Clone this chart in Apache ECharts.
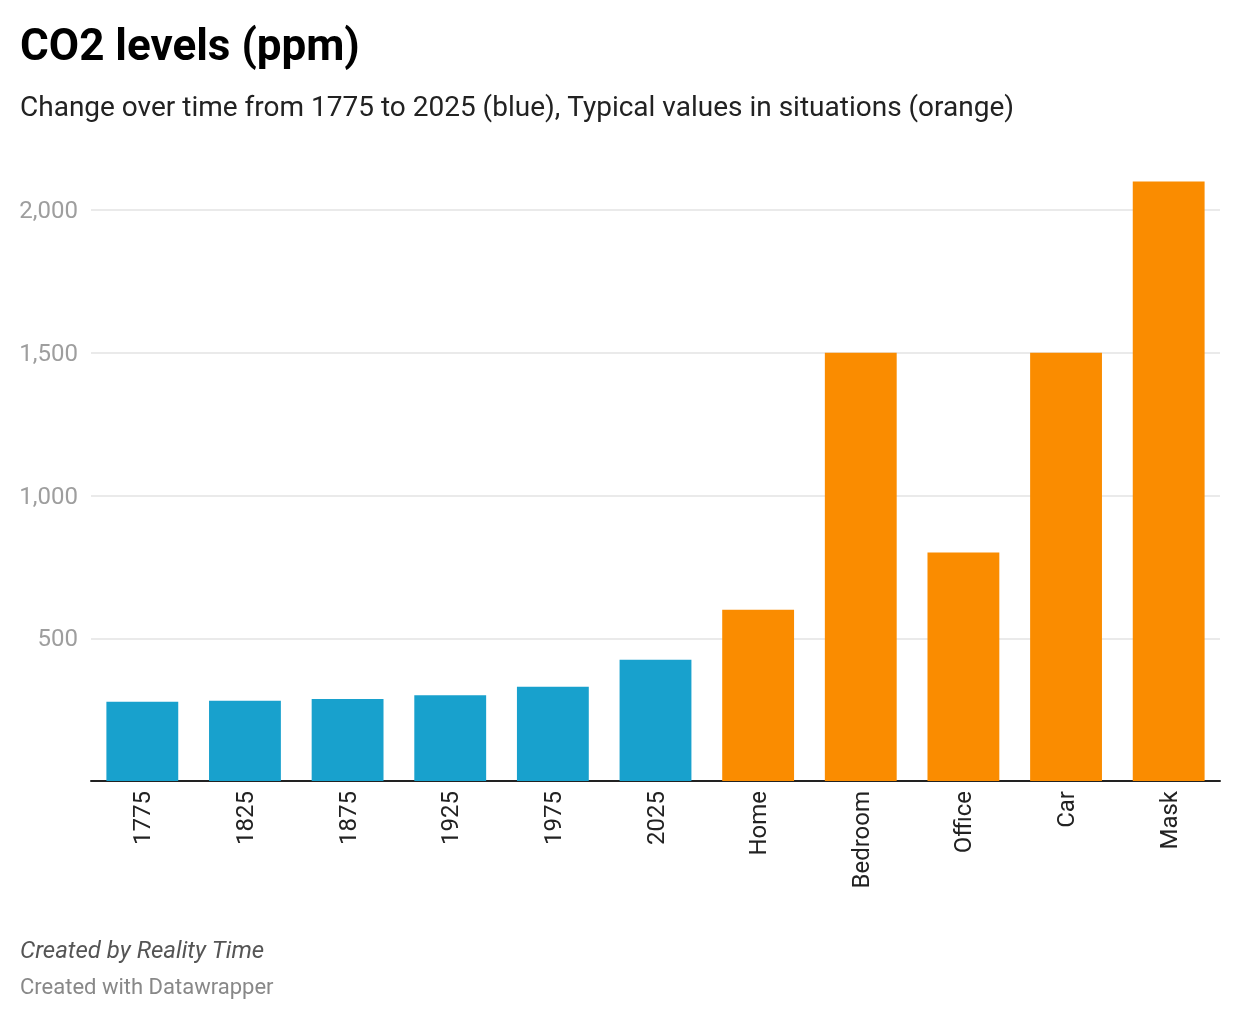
<!DOCTYPE html>
<html>
<head>
<meta charset="utf-8">
<script src="https://cdn.jsdelivr.net/npm/echarts@6/dist/echarts.min.js"></script>
<style>
html,body{margin:0;padding:0;background:#fff;}
#chart{width:1240px;height:1020px;}
</style>
</head>
<body>
<div id="chart"></div>
<script>
const categories = ['1775','1825','1875','1925','1975','2025','Home','Bedroom','Office','Car','Mask'];
const historicValues = [278, 281, 287, 300, 330, 425, null, null, null, null, null];
const situationValues = [null, null, null, null, null, null, 600, 1500, 800, 1500, 2100];
const yTicks = [0, 500, 1000, 1500, 2000];

const FONT = 'Roboto, "Noto Sans", sans-serif';
const chart = echarts.init(document.getElementById('chart'), null, {renderer: 'canvas'});
chart.setOption({
  backgroundColor: '#fff',
  animation: false,
  textStyle: {fontFamily: FONT},
  graphic: [
    {type: 'text', left: 20, top: 27, style: {text: 'CO2 levels (ppm)', font: 'bold 44px ' + FONT, fill: '#000'}},
    {type: 'text', left: 20, top: 95, style: {text: 'Change over time from 1775 to 2025 (blue), Typical values in situations (orange)', font: '28px ' + FONT, fill: '#222'}},
    {type: 'text', left: 20, top: 940, style: {text: 'Created by Reality Time', font: 'italic 24px ' + FONT, fill: '#555'}},
    {type: 'text', left: 20, top: 977, style: {text: 'Created with Datawrapper', font: '22px ' + FONT, fill: '#888'}}
  ],
  grid: {left: 91, right: 20, top: 210, bottom: 239, containLabel: false},
  xAxis: {
    type: 'category',
    data: categories,
    axisLine: {lineStyle: {color: '#222', width: 2}},
    axisTick: {show: false},
    axisLabel: {
      rotate: 90, fontSize: 24, color: '#222', margin: 10, fontFamily: FONT, interval: 0,
      formatter: v => '{a|' + v + '}',
      rich: {a: {fontSize: 24, color: '#222', fontFamily: FONT, padding: [4, 0, 0, 0]}}
    }
  },
  yAxis: {
    type: 'value',
    min: yTicks[0],
    max: yTicks[yTicks.length - 1],
    interval: 500,
    axisLine: {show: false},
    axisTick: {show: false},
    splitLine: {lineStyle: {color: '#e3e3e3', width: 1.5}},
    axisLabel: {
      fontSize: 24, color: '#9e9e9e', margin: 13, fontFamily: FONT,
      formatter: v => v === 0 ? '' : '{a|' + v.toLocaleString('en-US') + '}',
      rich: {a: {fontSize: 24, color: '#9e9e9e', fontFamily: FONT, padding: [4, 0, 0, 0]}}
    }
  },
  series: [
    {type: 'bar', data: historicValues, stack: 'a', barCategoryGap: '30%', clip: false, itemStyle: {color: '#18a1cd'}},
    {type: 'bar', data: situationValues, stack: 'a', barCategoryGap: '30%', clip: false, itemStyle: {color: '#fa8c00'}}
  ]
});
</script>
</body>
</html>
